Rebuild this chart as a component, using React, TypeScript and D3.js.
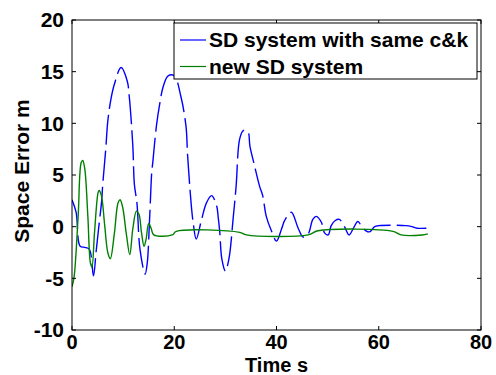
import React from 'react';
import * as d3 from 'd3';

// SD system with same c&k (blue, dashed)
const blueT = [0, 0.8, 1.6, 2.5, 3.4, 4.2, 4.7, 5.2, 5.8, 6.0, 6.6, 7.0, 7.6, 8.3, 9.6, 10.8, 11.2, 11.9, 12.2, 12.7, 13.3, 14.3, 14.7, 15.2, 15.6, 15.8, 16.5, 17.2, 17.8, 18.8, 20.0, 21.3, 22.3, 22.6, 23.1, 23.4, 23.7, 24.3, 25.3, 26.3, 27.3, 28.3, 28.6, 28.9, 29.3, 30.0, 30.7, 31.5, 32.1, 32.8, 33.5, 34.4, 34.8, 35.7, 36.7, 37.3, 38.0, 39.0, 40.0, 41.0, 41.6, 42.9, 44.2, 45.2, 46.2, 47.1, 47.8, 48.8, 49.4, 50.1, 50.7, 51.5, 52.3, 53.3, 54.2, 55.0, 55.9, 56.7, 57.5, 58.2, 59.2, 60.0, 65.3, 66.5, 67.5, 69.6];
const blueV = [2.6, 1.4, -1.9, -2.0, -2.2, -4.75, -2.5, -0.2, 2.5, 4.0, 7.5, 10.2, 12.3, 13.8, 15.4, 14.1, 12.6, 7.8, 4.1, 2.3, -2.2, -4.6, -3.6, 1.0, 5.3, 6.2, 9.7, 12.0, 13.5, 14.6, 14.6, 12.6, 9.7, 7.0, 3.5, 1.7, 0.4, -1.2, 0.6, 2.3, 3.0, 2.0, 0.9, -0.5, -3.1, -4.3, -3.1, 0.7, 3.9, 8.5, 9.3, 9.2, 7.8, 5.9, 3.9, 3.0, 1.0, -0.4, -1.4, -0.2, 0.6, 1.4, -0.1, -1.0, -0.7, 0.7, 1.0, 0.4, -0.6, -0.8, 0.1, 0.6, 0.7, 0.0, -0.8, -0.2, 0.5, 0.0, -0.4, -0.5, 0.0, 0.1, 0.1, 0.0, -0.15, -0.15];

// new SD system (green)
const greenT = [0, 0.4, 1.2, 1.8, 2.1, 2.5, 3.1, 3.6, 3.9, 4.4, 5.1, 5.3, 5.75, 6.4, 7.0, 7.5, 8.3, 9.0, 9.4, 9.9, 10.6, 11.3, 11.9, 12.6, 13.1, 13.6, 14.1, 14.5, 15.0, 15.5, 16.0, 19.6, 20.4, 32.8, 34.1, 46.2, 48.1, 62.8, 64.4, 68.5, 69.6];
const greenV = [-5.8, -4.9, 1.0, 6.2, 6.4, 5.6, 1.0, -3.5, -3.9, -0.6, 3.3, 3.5, 3.0, 0.1, -2.5, -3.1, -0.6, 2.3, 2.6, 1.9, -0.6, -2.7, -0.2, 1.5, 1.2, -0.6, -1.9, -1.2, 0.3, -0.2, -0.8, -0.8, -0.45, -0.55, -0.8, -0.8, -0.4, -0.45, -0.8, -0.8, -0.7];

const xTicks = [0, 20, 40, 60, 80];
const yTicks = [-10, -5, 0, 5, 10, 15, 20];
const legendLabels = ['SD system with same c&k', 'new SD system'];

const W = 496;
const H = 375;
const margin = { left: 72, right: 15, top: 20, bottom: 45 };
const font = '"Liberation Sans", Arial, sans-serif';
const fs = 21;

const App: React.FC = () => {
  const x = d3.scaleLinear().domain([0, 80]).range([margin.left, W - margin.right]);
  const y = d3.scaleLinear().domain([-10, 20]).range([H - margin.bottom, margin.top]);

  const line = d3.line<[number, number]>()
    .x(d => x(d[0]))
    .y(d => y(d[1]))
    .curve(d3.curveCatmullRom.alpha(0.5));

  const blue = line(blueT.map((t, i) => [t, blueV[i]] as [number, number])) || '';
  const green = line(greenT.map((t, i) => [t, greenV[i]] as [number, number])) || '';

  const x0 = x(0), x1 = x(80), y0 = y(-10), y1 = y(20);
  const tick = 4;

  return (
    <svg width={W} height={H} style={{ position: 'absolute', left: 0, top: 0, background: '#fff' }}>
      <rect width={W} height={H} fill="#fff" />
      <defs>
        <clipPath id="plot">
          <rect x={x0} y={y1} width={x1 - x0} height={y0 - y1} />
        </clipPath>
      </defs>

      <g clipPath="url(#plot)">
        <path d={blue} fill="none" stroke="#0000ff" strokeWidth={1.4} strokeDasharray="30,6" />
        <path d={green} fill="none" stroke="#008000" strokeWidth={1.4} />
      </g>

      {/* box and ticks */}
      <rect x={x0} y={y1} width={x1 - x0} height={y0 - y1} fill="none" stroke="#000" strokeWidth={1} />
      {xTicks.map(t => (
        <g key={`xt-${t}`}>
          <line x1={x(t)} x2={x(t)} y1={y0} y2={y0 - tick} stroke="#000" />
          <line x1={x(t)} x2={x(t)} y1={y1} y2={y1 + tick} stroke="#000" />
          <text x={x(t)} y={y0 + 19} textAnchor="middle" fontFamily={font} fontWeight="bold" fontSize={20}>{t}</text>
        </g>
      ))}
      {yTicks.map(t => (
        <g key={`yt-${t}`}>
          <line x1={x0} x2={x0 + tick} y1={y(t)} y2={y(t)} stroke="#000" />
          <line x1={x1} x2={x1 - tick} y1={y(t)} y2={y(t)} stroke="#000" />
          <text x={x0 - 8} y={y(t)} dy="0.35em" textAnchor="end" fontFamily={font} fontWeight="bold" fontSize={fs}>{t}</text>
        </g>
      ))}

      <text x={(x0 + x1) / 2} y={372} textAnchor="middle" fontFamily={font} fontWeight="bold" fontSize={20}>Time s</text>
      <text transform={`translate(29, 171) rotate(-90)`} textAnchor="middle" fontFamily={font} fontWeight="bold" fontSize={fs}>Space Error m</text>

      {/* legend */}
      <rect x={174} y={23} width={303} height={56} fill="#fff" stroke="#000" strokeWidth={1} />
      {legendLabels.map((label, i) => (
        <g key={label} transform={`translate(0, ${40 + i * 26.5})`}>
          <line x1={180} x2={206} y1={0} y2={0} stroke={i === 0 ? '#0000ff' : '#008000'} strokeWidth={1.2} />
          <text x={209} y={0} dy="0.35em" fontFamily={font} fontWeight="bold" fontSize={fs}>{label}</text>
        </g>
      ))}
    </svg>
  );
};

export default App;
